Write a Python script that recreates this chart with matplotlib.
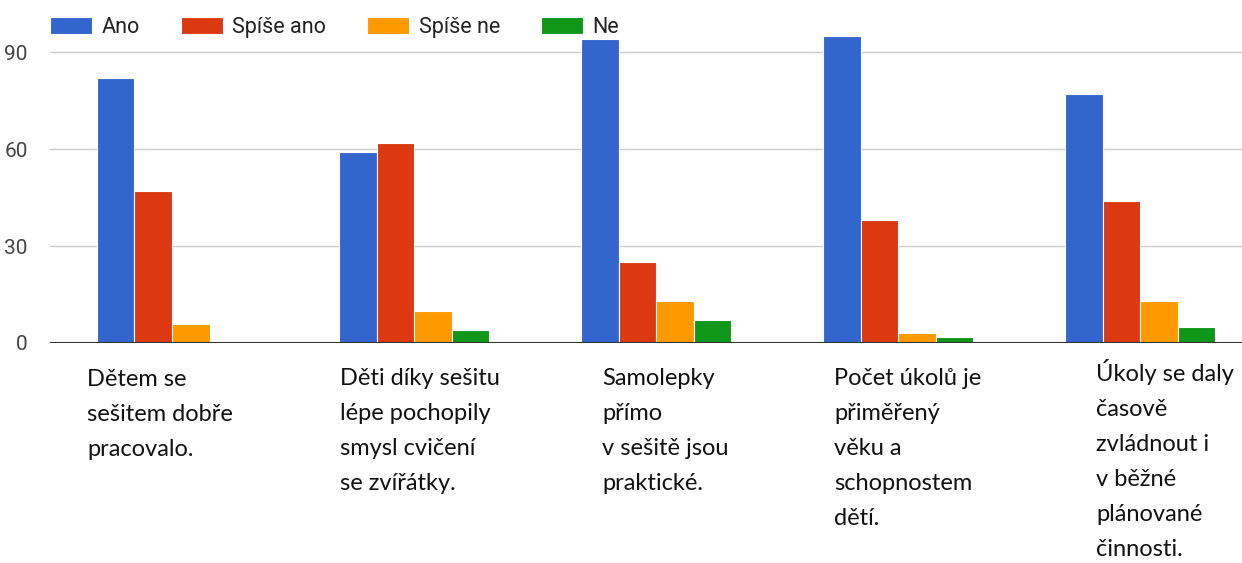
import matplotlib
matplotlib.use('Agg')
import matplotlib.pyplot as plt
import numpy as np

# survey answers per statement
categories = [
    'Dětem se\nsešitem dobře\npracovalo.',
    'Děti díky sešitu\nlépe pochopily\nsmysl cvičení\nse zvířátky.',
    'Samolepky\npřímo\nv sešitě jsou\npraktické.',
    'Počet úkolů je\npřiměřený\nvěku a\nschopnostem\ndětí.',
    'Úkoly se daly\nčasově\nzvládnout i\nv běžné\nplánované\nčinnosti.',
]
series_names = ['Ano', 'Spíše ano', 'Spíše ne', 'Ne']
ano = [82, 59, 94, 95, 77]
spise_ano = [47, 62, 25, 38, 44]
spise_ne = [6, 10, 13, 3, 13]
ne = [0, 4, 7, 2, 5]
y_ticks = [0, 30, 60, 90]

colors = ['#3366cc', '#dc3912', '#ff9900', '#109618']

W, H = 1242, 563
fig = plt.figure(figsize=(W / 100, H / 100), dpi=100)
ax = fig.add_axes([50 / W, 220 / H, 1 - 50 / W, 323.3 / H])

x = np.arange(len(categories))
bw = 0.155
for i, (vals, name) in enumerate(zip([ano, spise_ano, spise_ne, ne], series_names)):
    ax.bar(x + (i - 1.5) * bw, vals, bw, color=colors[i], label=name,
           edgecolor='white', linewidth=0.8, zorder=3)

ax.set_xlim(-0.504, 4.42)
ax.set_ylim(0, 100)
ax.set_yticks(y_ticks)
ax.set_yticklabels([str(t) for t in y_ticks], family='Roboto', fontsize=15, color='#444444')
ax.tick_params(axis='y', length=0, pad=16)
ax.set_xticks([])
ax.grid(axis='y', color='#cccccc', linewidth=1, zorder=0)
ax.axhline(0, color='#333333', linewidth=1.5, zorder=4)
for s in ax.spines.values():
    s.set_visible(False)

# category labels placed below the groups (pixel offsets from group centre)
label_dx = [-85, -74, -54, -64, -44]
label_top = [369, 368, 368, 368, 359]
for i, txt in enumerate(categories):
    cx = 172 + 242 * i
    fig.text((cx + label_dx[i]) / W, 1 - label_top[i] / H, txt, ha='left', va='top',
             family='Lato', fontsize=17, linespacing=1.82, color='#111111')

fig.legend(loc='upper left', bbox_to_anchor=(50 / W, 1 - 17 / H), ncol=4, frameon=False,
           prop={'family': 'Roboto', 'size': 15.5}, handlelength=1.95, handleheight=0.8,
           handletextpad=0.45, columnspacing=1.9, borderpad=0, borderaxespad=0,
           labelcolor='#222222')

fig.savefig('out.png', dpi=100)
